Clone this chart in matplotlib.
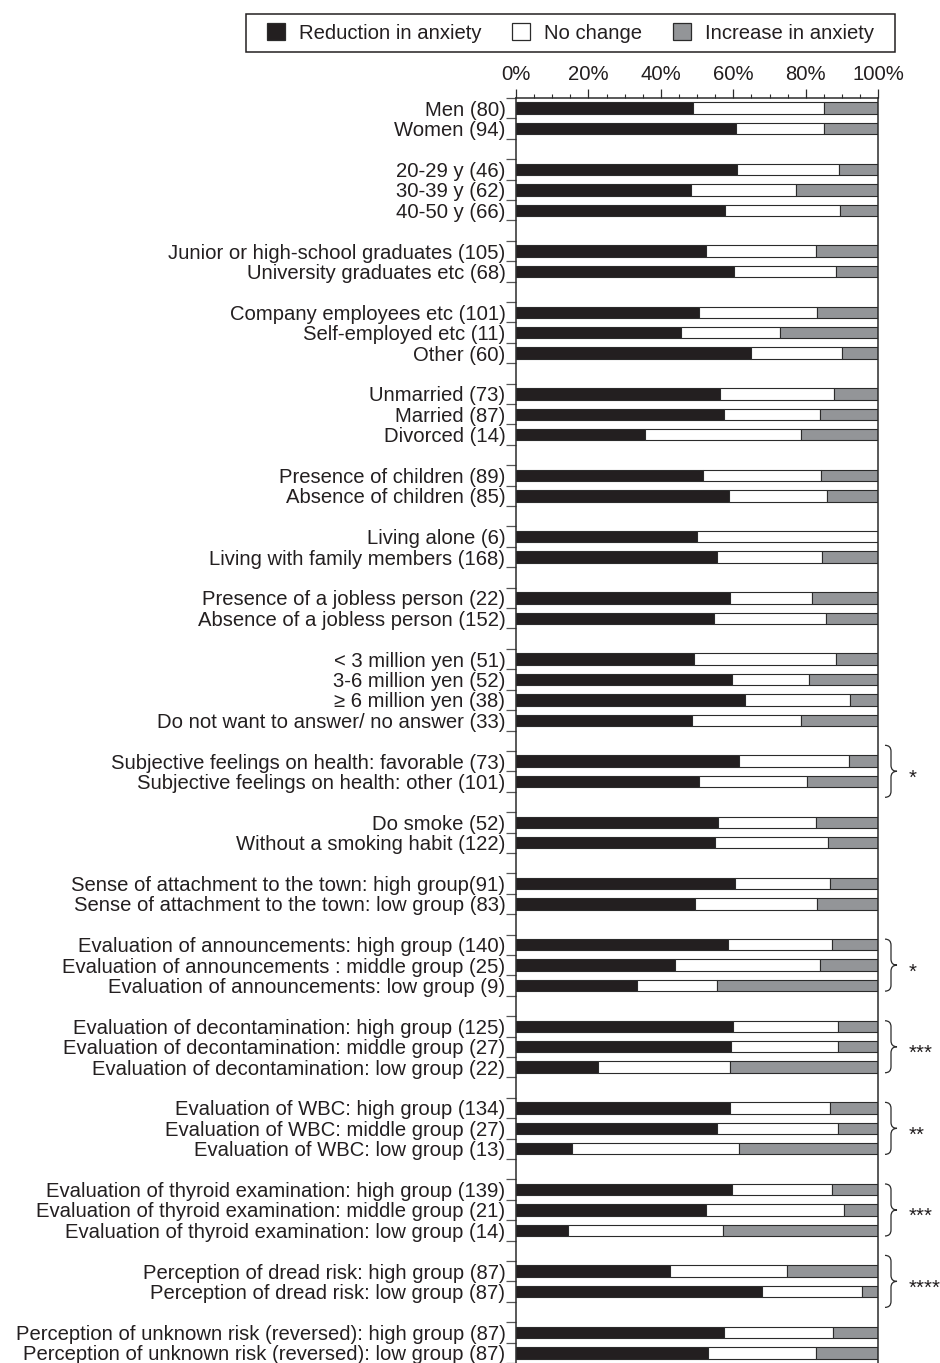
import matplotlib
matplotlib.use("Agg")
import matplotlib.pyplot as plt
from matplotlib.patches import Patch, Rectangle, PathPatch
from matplotlib.path import Path
from matplotlib.transforms import blended_transform_factory
import numpy as np

plt.rcParams["font.family"] = ["Liberation Sans", "DejaVu Sans"]

# ---- data ---------------------------------------------------------------
categories = [
    "Men (80)", "Women (94)",
    "20-29 y (46)", "30-39 y (62)", "40-50 y (66)",
    "Junior or high-school graduates (105)", "University graduates etc (68)",
    "Company employees etc (101)", "Self-employed etc (11)", "Other (60)",
    "Unmarried (73)", "Married (87)", "Divorced (14)",
    "Presence of children (89)", "Absence of children (85)",
    "Living alone (6)", "Living with family members (168)",
    "Presence of a jobless person (22)", "Absence of a jobless person (152)",
    "< 3 million yen (51)", "3-6 million yen (52)", "\u2265 6 million yen (38)",
    "Do not want to answer/ no answer (33)",
    "Subjective feelings on health: favorable (73)",
    "Subjective feelings on health: other (101)",
    "Do smoke (52)", "Without a smoking habit (122)",
    "Sense of attachment to the town: high group(91)",
    "Sense of attachment to the town: low group (83)",
    "Evaluation of announcements: high group (140)",
    "Evaluation of announcements : middle group (25)",
    "Evaluation of announcements: low group (9)",
    "Evaluation of decontamination: high group (125)",
    "Evaluation of decontamination: middle group (27)",
    "Evaluation of decontamination: low group (22)",
    "Evaluation of WBC: high group (134)",
    "Evaluation of WBC: middle group (27)",
    "Evaluation of WBC: low group (13)",
    "Evaluation of thyroid examination: high group (139)",
    "Evaluation of thyroid examination: middle group (21)",
    "Evaluation of thyroid examination: low group (14)",
    "Perception of dread risk: high group (87)",
    "Perception of dread risk: low group (87)",
    "Perception of unknown risk (reversed): high group (87)",
    "Perception of unknown risk (reversed): low group (87)",
]

group_sizes = [2, 3, 2, 3, 3, 2, 2, 2, 4, 2, 2, 2, 3, 3, 3, 3, 2, 2]

reduction = [48.8, 60.6, 60.9, 48.4, 57.6, 52.4, 60.3, 50.5, 45.5, 65.0,
             56.2, 57.5, 35.7, 51.7, 58.8, 50.0, 55.4, 59.1, 54.6, 49.0,
             59.6, 63.2, 48.5, 61.6, 50.5, 55.8, 54.9, 60.4, 49.4, 58.6,
             44.0, 33.3, 60.0, 59.3, 22.7, 59.0, 55.6, 15.4, 59.7, 52.4,
             14.3, 42.5, 67.8, 57.5, 52.9]
no_change = [36.2, 24.5, 28.2, 29.0, 31.8, 30.5, 27.9, 32.7, 27.3, 25.0,
             31.5, 26.4, 42.9, 32.6, 27.1, 50.0, 29.1, 22.7, 30.9, 39.2,
             21.2, 28.9, 30.3, 30.2, 29.7, 26.9, 31.2, 26.4, 33.7, 28.5,
             40.0, 22.2, 28.8, 29.6, 36.4, 27.6, 33.3, 46.1, 27.4, 38.1,
             42.9, 32.2, 27.6, 29.9, 29.9]
increase = [15.0, 14.9, 10.9, 22.6, 10.6, 17.1, 11.8, 16.8, 27.2, 10.0,
            12.3, 16.1, 21.4, 15.7, 14.1, 0.0, 15.5, 18.2, 14.5, 11.8,
            19.2, 7.9, 21.2, 8.2, 19.8, 17.3, 13.9, 13.2, 16.9, 12.9,
            16.0, 44.5, 11.2, 11.1, 40.9, 13.4, 11.1, 38.5, 12.9, 9.5,
            42.8, 25.3, 4.6, 12.6, 17.2]

# significance marks: group index -> stars
significance = {9: "*", 12: "*", 13: "***", 14: "**", 15: "***", 16: "****"}

legend_labels = ["Reduction in anxiety", "No change", "Increase in anxiety"]

# ---- styling ------------------------------------------------------------
DARK = "#231f20"
GREY = "#939598"
EDGE = "#2b2b2b"
FS = 14.6

W, H = 940, 1363
fig = plt.figure(figsize=(W / 100, H / 100), dpi=100)

ax_left, ax_right, ax_top = 516, 878.3, 98
ax = fig.add_axes([ax_left / W, 0, (ax_right - ax_left) / W, (H - ax_top) / H])

# row positions with a blank slot between groups
positions = []
group_rows = []
slot = 0
for g, n in enumerate(group_sizes):
    rows = list(range(slot, slot + n))
    positions.extend(rows)
    group_rows.append(rows)
    slot += n + 1
n_slots = slot - 1
positions = np.array(positions, dtype=float)

red = np.array(reduction)
nc = np.array(no_change)
inc = np.array(increase)

bh = 0.56
ax.barh(positions, red, height=bh, color=DARK, edgecolor=EDGE, linewidth=0.8)
ax.barh(positions, nc, left=red, height=bh, color="white", edgecolor=EDGE, linewidth=0.8)
ax.barh(positions, inc, left=red + nc, height=bh, color=GREY, edgecolor=EDGE, linewidth=0.8)

ax.set_xlim(0, 100)
ax.set_ylim(n_slots - 0.5, -0.5)

# x axis on top
ax.xaxis.tick_top()
ax.set_xticks(np.arange(0, 101, 20))
ax.set_xticklabels([f"{v}%" for v in range(0, 101, 20)], fontsize=FS, color=DARK)
ax.set_xticks(np.arange(0, 101, 5), minor=True)
ax.tick_params(axis="x", which="major", direction="out", length=6.5, width=0.9,
               color=EDGE, pad=3.5, top=True, bottom=False, labeltop=True, labelbottom=False)
ax.tick_params(axis="x", which="minor", direction="out", length=3, width=0.8,
               color=EDGE, top=True, bottom=False)

# y axis: ticks at slot boundaries, labels at row centres
ax.set_yticks(np.arange(-0.5, n_slots, 1.0))
ax.set_yticklabels([])
ax.set_yticks(positions, minor=True)
ax.set_yticklabels(categories, minor=True, fontsize=FS, color=DARK)
ax.tick_params(axis="y", which="major", direction="out", length=7.5, width=0.9, color="#555555")
ax.tick_params(axis="y", which="minor", length=0, pad=7.6)

for side in ["left", "right", "top"]:
    ax.spines[side].set_color(EDGE)
    ax.spines[side].set_linewidth(1.1)
ax.spines["bottom"].set_visible(False)

# braces and significance stars on the right
trans = blended_transform_factory(ax.transAxes, ax.transData)
px_x = 1.0 / (ax_right - ax_left)
px_y = 1.0 / ((H - ax_top) / n_slots)
x0 = 885 - ax_left
half = 26.0
for g, stars in significance.items():
    yc = np.mean(group_rows[g])
    pts = [(0, -half), (6, -half), (6, -half + 6),
           (6, -6), (6, 0), (12, 0),
           (6, 0), (6, 6),
           (6, half - 6), (6, half), (0, half)]
    codes = [Path.MOVETO, Path.CURVE3, Path.CURVE3,
             Path.LINETO, Path.CURVE3, Path.CURVE3,
             Path.CURVE3, Path.CURVE3,
             Path.LINETO, Path.CURVE3, Path.CURVE3]
    verts = [((x0 + dx) * px_x, yc + dy * px_y) for dx, dy in pts]
    ax.add_patch(PathPatch(Path(verts, codes), transform=trans, fill=False,
                           edgecolor=EDGE, linewidth=0.9, clip_on=False))
    ax.text((909 - ax_left) * px_x, yc + 0.6, stars, transform=trans,
            ha="left", va="baseline", fontsize=FS, color=DARK, clip_on=False)

# legend with a plain rectangular frame
handles = [Patch(facecolor=DARK, edgecolor=EDGE, linewidth=0.9),
           Patch(facecolor="white", edgecolor=EDGE, linewidth=0.9),
           Patch(facecolor=GREY, edgecolor=EDGE, linewidth=0.9)]
fig.legend(handles, legend_labels, loc="center", ncol=3, frameon=False,
           bbox_to_anchor=(570.5 / W, 1 - 33 / H), fontsize=FS,
           handlelength=0.88, handleheight=0.88, handletextpad=0.72,
           columnspacing=1.5, labelcolor=DARK)
fig.patches.append(Rectangle((246 / W, 1 - 52 / H), (895 - 246) / W, 38 / H,
                             transform=fig.transFigure, fill=False,
                             edgecolor=DARK, linewidth=1.1))

fig.savefig("out.png", dpi=100)
